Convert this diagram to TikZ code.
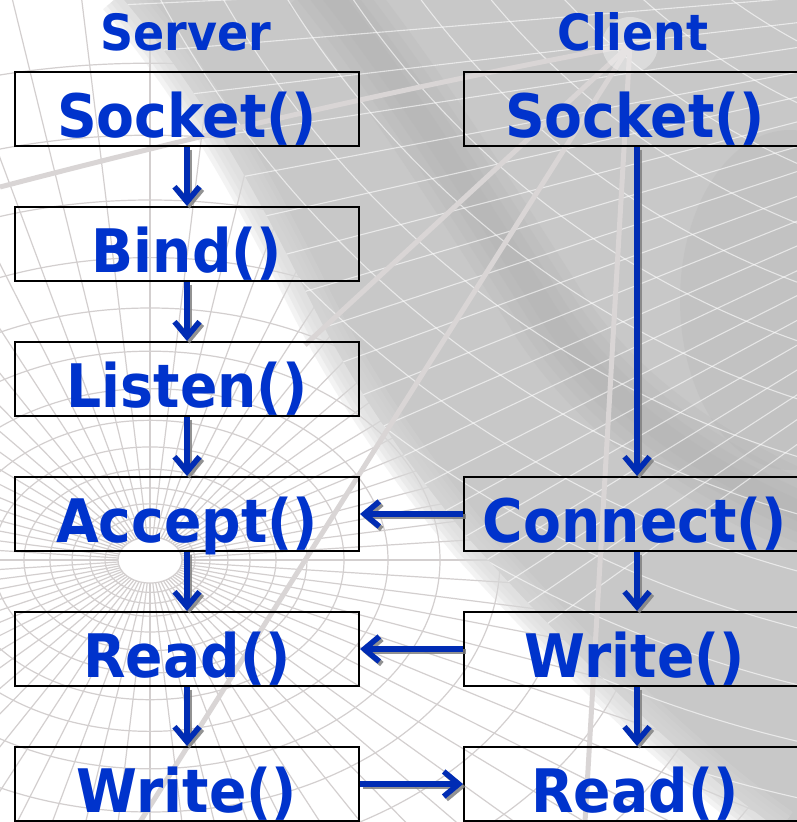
\documentclass[tikz,border=0pt]{standalone}
\usepackage{fontspec}
\usetikzlibrary{arrows.meta}
\newfontfamily\diagfont{DejaVu Sans}[FakeStretch=0.92]

\definecolor{txtblue}{HTML}{0033CC}
\definecolor{arrowblue}{HTML}{002CB4}
\definecolor{shadowgray}{HTML}{808080}
\definecolor{gridgray}{HTML}{D3CFCF}
\definecolor{panelgray}{HTML}{C8C8C8}
\definecolor{edgegray}{HTML}{D8D8D8}
\definecolor{bandgray}{HTML}{A8A8A8}
\definecolor{spokegray}{HTML}{D9D5D5}

% curved edge of the grey backdrop panel
\def\edgecurve{(120,-5) .. controls (200,90) and (250,180) .. (310,300) .. controls (360,400) and (420,480) .. (470,540) .. controls (560,640) and (680,760) .. (780,830)}

% an arrow between two anchors, with its drop shadow underneath
\newcommand\flowlink[2]{%
  \draw[flowshadow] #1 -- #2;
  \draw[flow] #1 -- #2;}

\begin{document}
\begin{tikzpicture}[x=1pt,y=-1pt,
  fnbox/.style={draw=black, line width=2pt, inner sep=0pt, anchor=north west,
    text height=65pt, text depth=9pt, text=txtblue,
    font=\diagfont\bfseries\fontsize{60}{60}\selectfont},
  srvbox/.style={fnbox, minimum width=344pt},
  clibox/.style={fnbox, minimum width=342pt},
  heading/.style={anchor=base, inner sep=0pt, text=txtblue,
    font=\diagfont\bfseries\fontsize{50}{50}\selectfont},
  flowtip/.style={line width=5.5pt, -{Straight Barb[length=15pt,width=25pt]}},
  flow/.style={flowtip, draw=arrowblue},
  flowshadow/.style={flowtip, draw=shadowgray, opacity=0.85,
    transform canvas={shift={(2.5pt,-2.5pt)}}},
  grid/.style={gridgray, line width=1.2pt},
  wgrid/.style={white, line width=1.1pt, opacity=0.6},
  spoke/.style={spokegray, line width=5pt},
]
\useasboundingbox (0,0) rectangle (796,822);

% ---- backdrop: white page with a polar grid ----
\fill[white] (0,0) rectangle (796,822);
\coordinate (hubL) at (150,560);
\foreach \r in {32,45,60,78,100,126,157,194,238,290,350,420,500,590,690,800}
  \draw[grid] (hubL) ellipse [x radius=\r, y radius=0.72*\r];
\foreach \a in {0,5,...,355}
  \draw[grid] ([shift={(\a:32 and 23)}]hubL) -- ([shift={(\a:1100 and 790)}]hubL);

% ---- grey panel with soft edge ----
\fill[panelgray] \edgecurve -- (810,830) -- (810,-10) -- cycle;
\foreach \w in {44,34,24,14}
  \draw[edgegray, line width=\w pt, opacity=0.3] \edgecurve;
\begin{scope}
  \clip \edgecurve -- (810,830) -- (810,-10) -- cycle;
  \foreach \w in {80,60,40,20}
    \draw[bandgray, line width=\w pt, opacity=0.14]
      (320,-20) .. controls (400,80) and (470,190) .. (540,300)
      .. controls (600,400) and (700,470) .. (820,520);
  \fill[bandgray, opacity=0.16] (790,300) ellipse [x radius=110, y radius=170];
  \foreach \r in {560,615,...,1400}
    \draw[wgrid] (1090,-500) circle [radius=\r];
  \foreach \k in {-400,-340,...,1200}
    \draw[wgrid] (1500,-60) -- (-200,\k);
\end{scope}

% ---- light spokes from the dial ----
\coordinate (dial) at (630,45);
\draw[spoke] (0,187) .. controls (200,135) and (400,88) .. (dial);
\draw[spoke] (dial) -- (140,822);
\draw[spoke] (dial) -- (585,822);
\draw[spoke] (dial) -- (305,345);
\fill[white, opacity=0.35] (dial) circle [radius=28];

% ---- column headings ----
\node[heading] (tServer) at (186,50) {Server};
\node[heading] (tClient) at (633,50) {Client};

% ---- server calls ----
\node[srvbox] (sSock)   at (14,71)  {Socket()};
\node[srvbox] (sBind)   at (14,206) {Bind()};
\node[srvbox] (sListen) at (14,341) {Listen()};
\node[srvbox] (sAccept) at (14,476) {Accept()};
\node[srvbox] (sRead)   at (14,611) {Read()};
\node[srvbox] (sWrite)  at (14,746) {Write()};

% ---- client calls ----
\node[clibox] (cSock)    at (463,71)  {Socket()};
\node[clibox] (cConnect) at (463,476) {Connect()};
\node[clibox] (cWrite)   at (463,611) {Write()};
\node[clibox] (cRead)    at (463,746) {Read()};

% ---- server sequence ----
\flowlink{(sSock.south)}{(sBind.north)}
\flowlink{(sBind.south)}{(sListen.north)}
\flowlink{(sListen.south)}{(sAccept.north)}
\flowlink{(sAccept.south)}{(sRead.north)}
\flowlink{(sRead.south)}{(sWrite.north)}

% ---- client sequence ----
\flowlink{([xshift=2pt]cSock.south)}{([xshift=2pt]cConnect.north)}
\flowlink{([xshift=2pt]cConnect.south)}{([xshift=2pt]cWrite.north)}
\flowlink{([xshift=2pt]cWrite.south)}{([xshift=2pt]cRead.north)}

% ---- exchanges between the two sides ----
\flowlink{(cConnect.west)}{(sAccept.east)}
\flowlink{(cWrite.west)}{(sRead.east)}
\flowlink{(sWrite.east)}{(cRead.west)}
\end{tikzpicture}
\end{document}
